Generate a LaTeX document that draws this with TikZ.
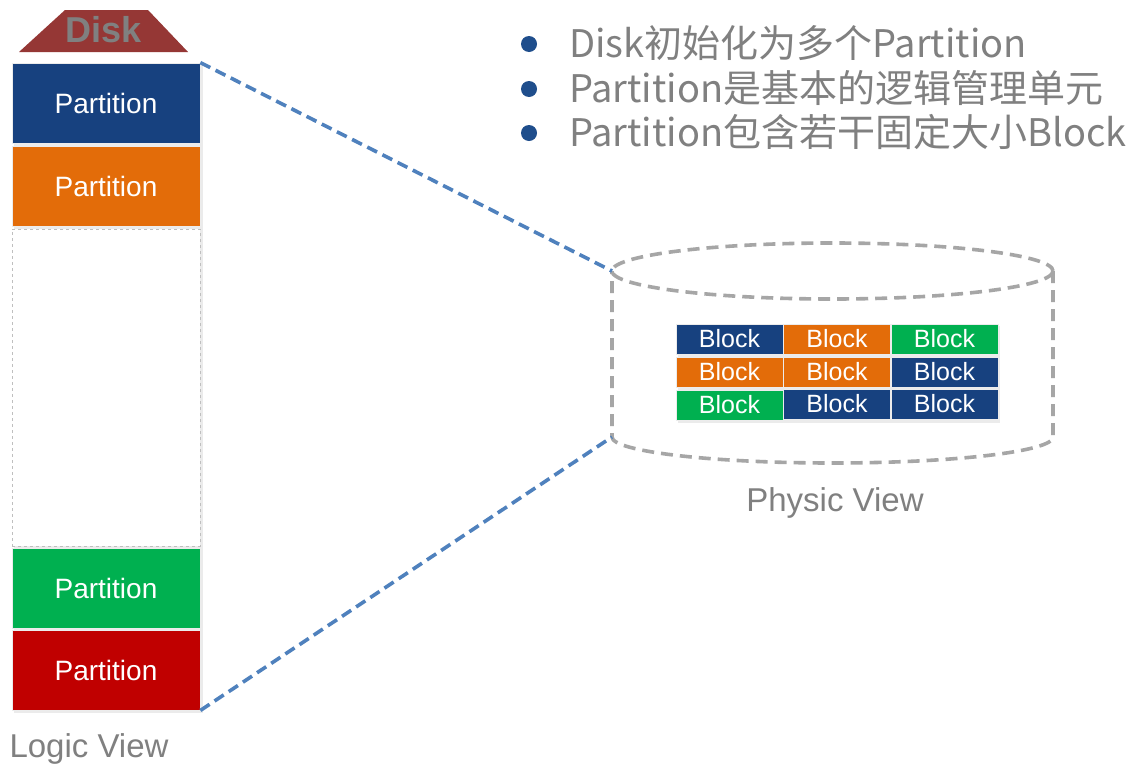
\documentclass[tikz,border=0pt]{standalone}
\usepackage{fontspec}
\setmainfont{Liberation Sans}
\newfontfamily\cjk{Noto Sans CJK SC}
\definecolor{pblue}{HTML}{17417F}
\definecolor{porange}{HTML}{E36C09}
\definecolor{pgreen}{HTML}{00B050}
\definecolor{pred}{HTML}{C00000}
\definecolor{diskred}{HTML}{953735}
\definecolor{linkblue}{HTML}{4F81BD}
\definecolor{cylgray}{HTML}{A6A6A6}
\definecolor{txtgray}{HTML}{808080}
\definecolor{bulletblue}{HTML}{1F4E8C}
\tikzset{
  part/.style={fill=#1, draw=white!85!gray, line width=0.8pt, minimum width=188pt, minimum height=80pt,
    inner sep=0pt, text=white, font=\fontsize{28}{30}\selectfont},
  blk/.style={fill=#1, draw=white!85!gray, line width=0.6pt, minimum width=107pt, minimum height=30pt,
    inner sep=0pt, text=white, font=\fontsize{25}{26}\selectfont},
  shade/.style={fill=black!8},
  link/.style={draw=linkblue, line width=3.6pt, dash pattern=on 11pt off 6pt},
  cyl/.style={draw=cylgray, line width=3.6pt, dash pattern=on 12pt off 7pt},
  caption/.style={text=txtgray, font=\fontsize{33}{36}\selectfont},
  bullettext/.style={anchor=west, text=txtgray, inner sep=0pt, font=\cjk\fontsize{38}{40}\selectfont},
  dot/.style={circle, fill=bulletblue, minimum size=16pt, inner sep=0pt},
}
\begin{document}
\begin{tikzpicture}[x=1pt,y=-1pt]
\useasboundingbox (0,0) rectangle (1135,766);
\fill[white] (0,0) rectangle (1135,766);

% Disk roof
\fill[diskred] (19,52) -- (65,10) -- (148,10) -- (188,52) -- cycle;
\node (disk) at (104,30) {\fontsize{36}{38}\selectfont\bfseries\color{txtgray}Disk};

% logical column: shadow first
\fill[shade] (14,65) rectangle (203,713);
% empty middle part of the column
\node[draw=black!25, dashed, line width=1pt, fill=white, minimum width=188pt, minimum height=317pt, inner sep=0pt]
  (pe) at (106,387.5) {};
\node[part=pblue]   (p1) at (106,103) {Partition};
\node[part=porange] (p2) at (106,186) {Partition};
\node[part=pgreen]  (p3) at (106,588) {Partition};
\node[part=pred]    (p4) at (106,670) {Partition};
\node[caption] (lv) at (89,749) {Logic View};

% physical cylinder
\coordinate (cylTL) at (612,271);
\coordinate (cylBL) at (612,437);
\draw[cyl] (832.5,271) ellipse [x radius=220.5, y radius=28];
\draw[cyl] (1053,271) -- (1053,437) arc[start angle=0, end angle=180, x radius=220.5, y radius=26] -- (612,271);

% block grid
\fill[shade] (678,326) rectangle (1000,423);
\node[blk=pblue]   (b11) at (729.5,339) {Block};
\node[blk=porange] (b12) at (837,339) {Block};
\node[blk=pgreen]  (b13) at (944.5,339) {Block};
\node[blk=porange] (b21) at (729.5,372) {Block};
\node[blk=porange] (b22) at (837,372) {Block};
\node[blk=pblue]   (b23) at (944.5,372) {Block};
\node[blk=pgreen]  (b31) at (729.5,405) {Block};
\node[blk=pblue]   (b32) at (837,404) {Block};
\node[blk=pblue]   (b33) at (944.5,404) {Block};
\node[caption] (pv) at (835,503) {Physic View};

% zoom lines from the column to the cylinder
\draw[link] (p1.north east) -- (cylTL);
\draw[link] (p4.south east) -- (cylBL);

% bullet list
\node[dot] (d1) at (529,44) {};
\node[dot] (d2) at (529,89) {};
\node[dot] (d3) at (529,133) {};
\node[bullettext] (t1) at (569,43) {Disk初始化为多个Partition};
\node[bullettext] (t2) at (569,88) {Partition是基本的逻辑管理单元};
\node[bullettext] (t3) at (569,132) {Partition包含若干固定大小Block};
\end{tikzpicture}
\end{document}
